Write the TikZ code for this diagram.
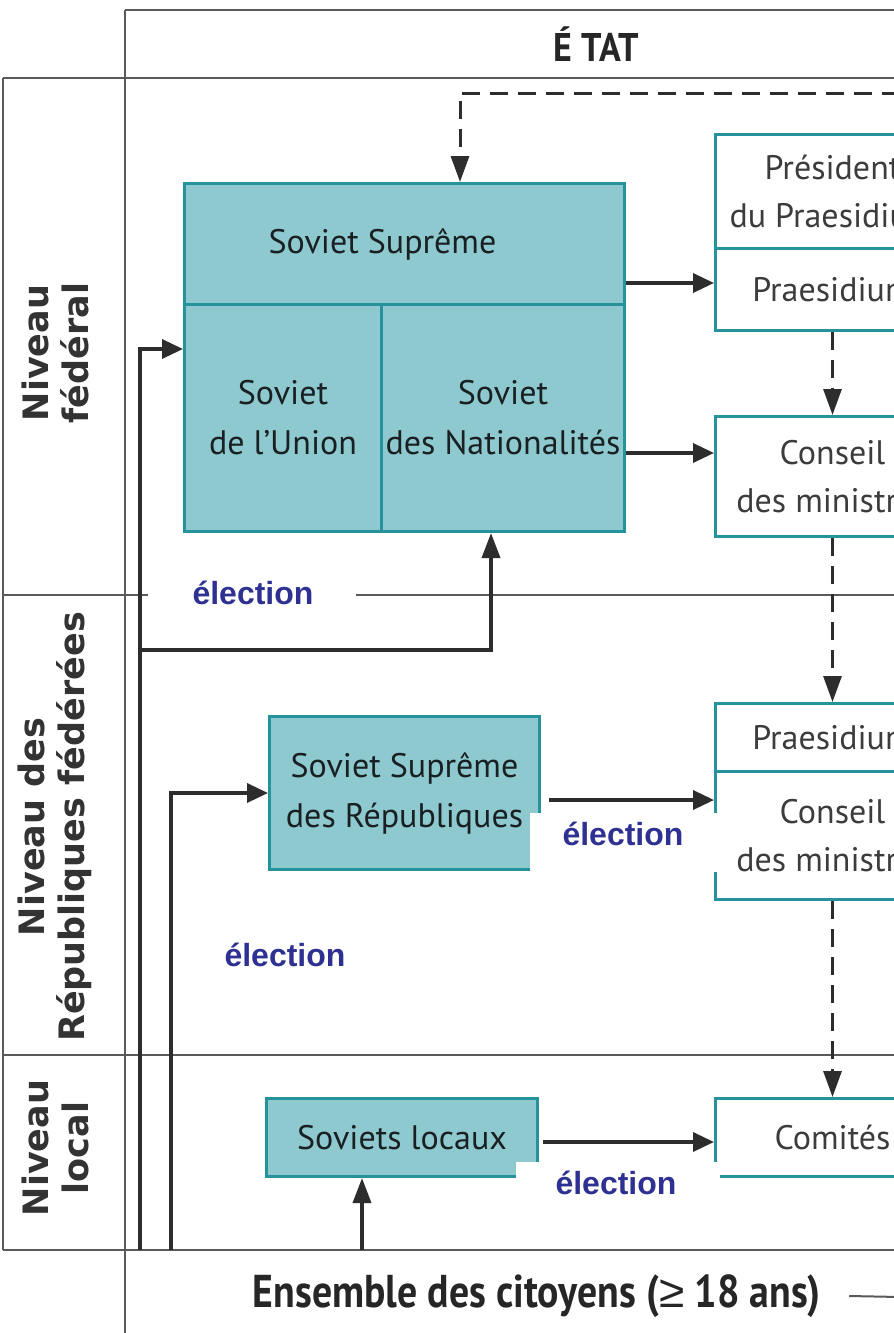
\documentclass[tikz,border=0pt]{standalone}
\usepackage{fontspec}
\setmainfont{PT Sans}
\newfontfamily\condfont[FakeStretch=0.9]{PT Sans}
\newfontfamily\narrowfont[FakeStretch=0.865]{PT Sans}
\newfontfamily\lvlfont{DejaVu Sans}
\newfontfamily\elfont{Liberation Sans}
\usetikzlibrary{arrows.meta,calc}
\definecolor{tealfill}{RGB}{142,201,207}
\definecolor{tealline}{RGB}{38,146,156}
\definecolor{frameg}{RGB}{90,90,90}
\definecolor{arrowc}{RGB}{45,45,45}
\definecolor{elblue}{RGB}{46,49,146}
\definecolor{boxtext}{RGB}{25,32,34}
\definecolor{rtext}{RGB}{60,60,60}
\begin{document}
\begin{tikzpicture}[x=1pt,y=-1pt,
  frameline/.style={draw=frameg,line width=2.3pt},
  tealbox/.style={draw=tealline,fill=tealfill,line width=3pt,inner sep=0pt,anchor=north west,align=center,text=boxtext,font=\fontsize{34}{50}\selectfont},
  whitebox/.style={draw=tealline,fill=white,line width=3pt,inner sep=0pt,anchor=north west,align=center,text=rtext,font=\fontsize{34}{48}\selectfont},
  conn/.style={draw=arrowc,line width=3.5pt},
  harrow/.style={conn,-{Triangle[length=21pt,width=19pt]}},
  varrow/.style={conn,-{Triangle[length=25pt,width=18pt]}},
  dashconn/.style={draw=arrowc,line width=3pt,dash pattern=on 18pt off 10pt},
  dasharrow/.style={dashconn,-{Triangle[length=26pt,width=18pt]}},
  lvl/.style={rotate=90,align=center,font=\lvlfont\bfseries\fontsize{35}{40}\selectfont,text=black!80},
  elab/.style={font=\elfont\bfseries\fontsize{32}{38}\selectfont,text=elblue,inner sep=0pt},
]
\clip (0,0) rectangle (894,1333);
\fill[white] (0,0) rectangle (894,1333);

% frame
\draw[frameline] (125,10) -- (900,10);
\draw[frameline] (3,78) -- (900,78);
\draw[frameline] (125,10) -- (125,1340);
\draw[frameline] (3,78) -- (3,1250);
\draw[frameline] (3,595) -- (900,595);
\draw[frameline] (3,1055) -- (900,1055);
\draw[frameline] (3,1250) -- (900,1250);

\node[font=\condfont\bfseries\fontsize{40}{44}\selectfont,text=black!85] (etat) at (596,44) {É TAT};

% level labels
\node[lvl] (lfed) at (55,353) {Niveau\\fédéral};
\node[lvl] (lrep) at (55,827) {Niveau des\\Républiques fédérées};
\node[lvl] (lloc) at (55,1148) {Niveau\\local};

% federal level
\node[tealbox,minimum width=440,minimum height=121] (sstop) at (183,182) {Soviet Suprême\hspace*{44pt}};
\node[tealbox,minimum width=197,minimum height=227] (union) at (183,303) {Soviet\\de l'Union};
\node[tealbox,minimum width=243,minimum height=227] (nat) at (380,303) {Soviet\\des Nationalités};

\node[whitebox,minimum width=234,minimum height=114] (pres) at (714,133) {Président\\du Praesidium};
\node[whitebox,minimum width=234,minimum height=82] (praes) at (714,247) {Praesidium};
\node[whitebox,minimum width=234,minimum height=120] (cons) at (714,415) {Conseil\\des ministres};

% republics level
\node[tealbox,minimum width=270,minimum height=153] (sr) at (268,715) {Soviet Suprême\\des Républiques};
\node[whitebox,minimum width=234,minimum height=68] (rpraes) at (714,702) {\raisebox{-6pt}{Praesidium}};
\node[whitebox,minimum width=234,minimum height=128] (rcons) at (714,770) {Conseil\\des ministres};

% local level
\node[tealbox,minimum width=271,minimum height=78] (sl) at (265,1097) {Soviets locaux};
\node[whitebox,minimum width=234,minimum height=78] (com) at (714,1097) {Comités};

% citizens
\node[font=\narrowfont\bfseries\fontsize{46}{52}\selectfont,text=black!85,inner sep=0pt] (cit) at (537,1296) {Ensemble des citoyens ({\elfont\mdseries ≥} 18 ans)};
\coordinate (citR) at (900,1297);
\draw[draw=frameg,line width=2pt] (cit.east) ++(28,0) -- (citR);

% election connectors
\coordinate (e1) at (140,1250);
\coordinate (e2) at (171,1250);
\coordinate (e3) at (362,1250);
\coordinate (b1) at (140,650);
\draw[harrow] (e1) |- (union.west |- 0,349);
\draw[varrow] (b1) -| (nat.south -| 491,0);
\draw[harrow] (e2) |- (sr.west);
\draw[varrow] (e3) -- (e3 |- sl.south);

% horizontal arrows
\draw[harrow] (sstop.east |- 0,283) -- (praes.west |- 0,283);
\draw[harrow] (nat.east |- 0,453) -- (cons.west |- 0,453);
\draw[harrow,shorten <=8pt] (sr.east |- 0,800) -- (rpraes.west |- 0,800);
\draw[harrow,shorten <=4pt] (sl.east |- 0,1142) -- (com.west |- 0,1142);

% dashed
\coordinate (dR) at (900,93);
\coordinate (dL) at (460,93);
\draw[dasharrow] (dR) -- (dL) -- (dL |- sstop.north);
\draw[dasharrow] (praes.south) -- (cons.north);
\draw[dasharrow] (cons.south) -- (rpraes.north);
\draw[dasharrow] (rcons.south) -- (com.north);

% white label patches
\fill[white] (148,574) rectangle (356,614);
\fill[white] (530,813) rectangle (718,872);
\fill[white] (516,1162) rectangle (720,1212);

\node[elab] (el1) at (253,593) {élection};
\node[elab] (el2) at (623,834) {élection};
\node[elab] (el3) at (285,955) {élection};
\node[elab] (el4) at (616,1183) {élection};
\end{tikzpicture}
\end{document}
